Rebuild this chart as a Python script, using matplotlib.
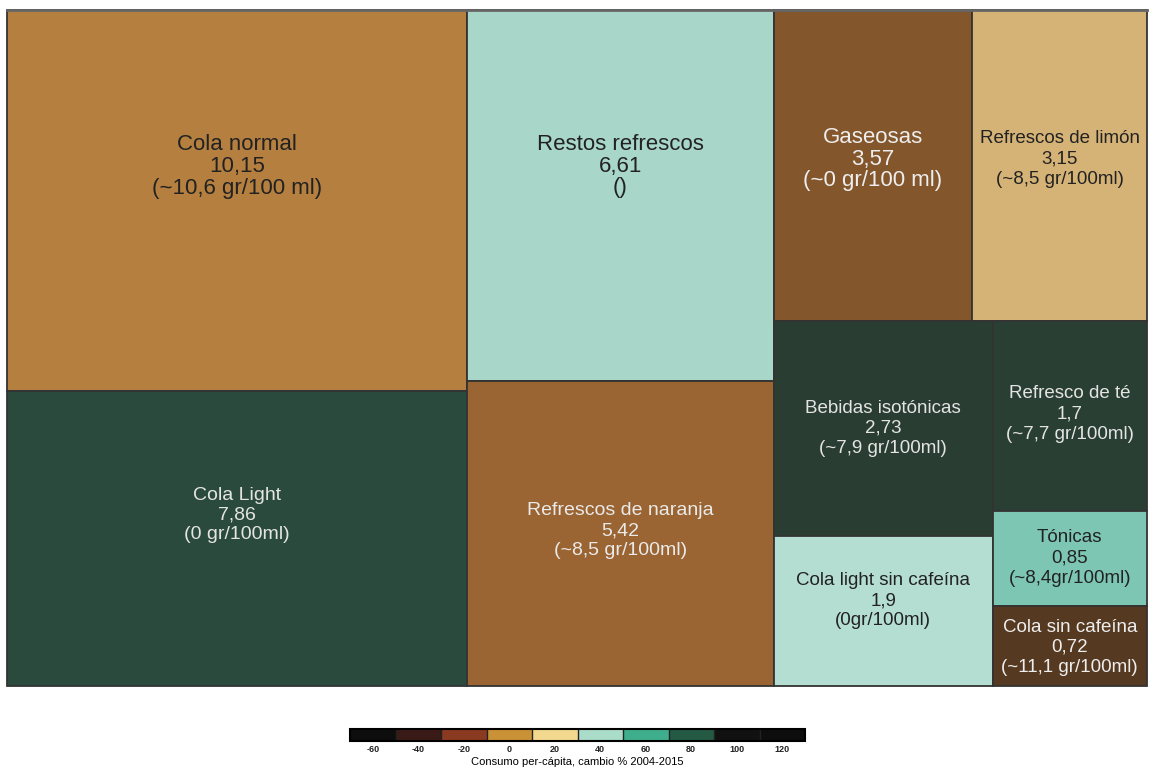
import matplotlib
matplotlib.use("Agg")
import matplotlib.pyplot as plt
from matplotlib.patches import Rectangle
from matplotlib.colors import ListedColormap, BoundaryNorm
import matplotlib as mpl

plt.rcParams['font.family'] = ['Liberation Sans', 'DejaVu Sans']

# ---- data ----
names = ["Cola normal", "Cola Light", "Restos refrescos", "Refrescos de naranja",
         "Gaseosas", "Refrescos de limón", "Bebidas isotónicas",
         "Cola light sin cafeína", "Refresco de té", "Tónicas", "Cola sin cafeína"]
values = [10.15, 7.86, 6.61, 5.42, 3.57, 3.15, 2.73, 1.9, 1.7, 0.85, 0.72]
value_labels = ["10,15", "7,86", "6,61", "5,42", "3,57", "3,15", "2,73", "1,9", "1,7", "0,85", "0,72"]
sugar = ["(~10,6 gr/100 ml)", "(0 gr/100ml)", "()", "(~8,5 gr/100ml)", "(~0 gr/100 ml)",
         "(~8,5 gr/100ml)", "(~7,9 gr/100ml)", "(0gr/100ml)", "(~7,7 gr/100ml)",
         "(~8,4gr/100ml)", "(~11,1 gr/100ml)"]
cbar_ticks = [-60, -40, -20, 0, 20, 40, 60, 80, 100, 120]
cbar_label = "Consumo per-cápita, cambio % 2004-2015"

# ---- style ----
fill = ["#B57F40", "#2B4A3E", "#A8D6C8", "#9A6532", "#83562C", "#D5B377",
        "#293D33", "#B5DED2", "#2A3F34", "#7CC6B3", "#553A21"]
text_col = ["#222222", "#E4E4E4", "#222222", "#EAEAEA", "#EEEEEE", "#222222",
            "#E4E4E4", "#222222", "#E4E4E4", "#222222", "#EEEEEE"]
fsize = [16, 14, 16, 14, 16, 13.5, 13.5, 13.5, 13.5, 13.5, 13.5]
lspace = [1.05, 1.22, 1.05, 1.22, 1.05, 1.25, 1.25, 1.25, 1.25, 1.25, 1.25]
yfrac = [0.41, 0.42, 0.42, 0.49, 0.48, 0.48, 0.5, 0.43, 0.49, 0.5, 0.52]
cbar_colors = ["#0D0D0D", "#3A1A16", "#8A3A20", "#C99236", "#F2D98F",
               "#A9DCC9", "#3FAE8C", "#245A44", "#111111", "#0D0D0D"]

# nested slice-and-dice structure: 'h' splits horizontally (columns), 'v' vertically (rows)
structure = ('h', [('v', [0, 1]),
                   ('v', [2, 3]),
                   ('v', [('h', [4, 5]),
                          ('h', [('v', [6, 7]), ('v', [8, 9, 10])])])])


def total(node):
    if isinstance(node, int):
        return values[node]
    return sum(total(c) for c in node[1])


def layout(node, x, y, w, h, out):
    if isinstance(node, int):
        out[node] = (x, y, w, h)
        return
    d, children = node
    s = total(node)
    pos = 0.0
    for c in children:
        f = total(c) / s
        if d == 'h':
            layout(c, x + pos * w, y, f * w, h, out)
        else:
            layout(c, x, y + pos * h, w, f * h, out)
        pos += f


W, H = 1149, 769
fig = plt.figure(figsize=(W / 100, H / 100), dpi=100)
ax = fig.add_axes([7 / W, 1 - 686 / H, 1140 / W, 676 / H])
ax.set_xlim(0, 1)
ax.set_ylim(1, 0)
ax.axis('off')

rects = {}
layout(structure, 0, 0, 1, 1, rects)
for i in range(len(values)):
    x, y, w, h = rects[i]
    ax.add_patch(Rectangle((x, y), w, h, facecolor=fill[i], edgecolor="#333333",
                           linewidth=1.3, clip_on=False))
    ax.text(x + w / 2, y + h * yfrac[i], f"{names[i]}\n{value_labels[i]}\n{sugar[i]}",
            ha='center', va='center', fontsize=fsize[i], color=text_col[i],
            linespacing=lspace[i])
# top border line
ax.plot([0, 1], [0, 0], color="#666666", linewidth=2.0, clip_on=False)

# colorbar
cax = fig.add_axes([350 / W, 1 - 741 / H, 455 / W, 12 / H])
bounds = [t - 10 for t in cbar_ticks] + [cbar_ticks[-1] + 10]
cmap = ListedColormap(cbar_colors)
norm = BoundaryNorm(bounds, cmap.N)
cb = mpl.colorbar.ColorbarBase(cax, cmap=cmap, norm=norm, orientation='horizontal',
                               ticks=cbar_ticks, drawedges=True)
cb.outline.set_linewidth(1.5)
cb.dividers.set_color('#222222')
cb.dividers.set_linewidth(1.0)
cax.minorticks_off()
cax.tick_params(which='both', length=0, labelsize=6.5, pad=3, labelcolor='#222222')
cax.set_xticks(cbar_ticks)
cax.set_xticklabels([str(t) for t in cbar_ticks], fontweight='bold')
cb.set_label(cbar_label, fontsize=8, labelpad=2)

fig.savefig("out.png", dpi=100)
